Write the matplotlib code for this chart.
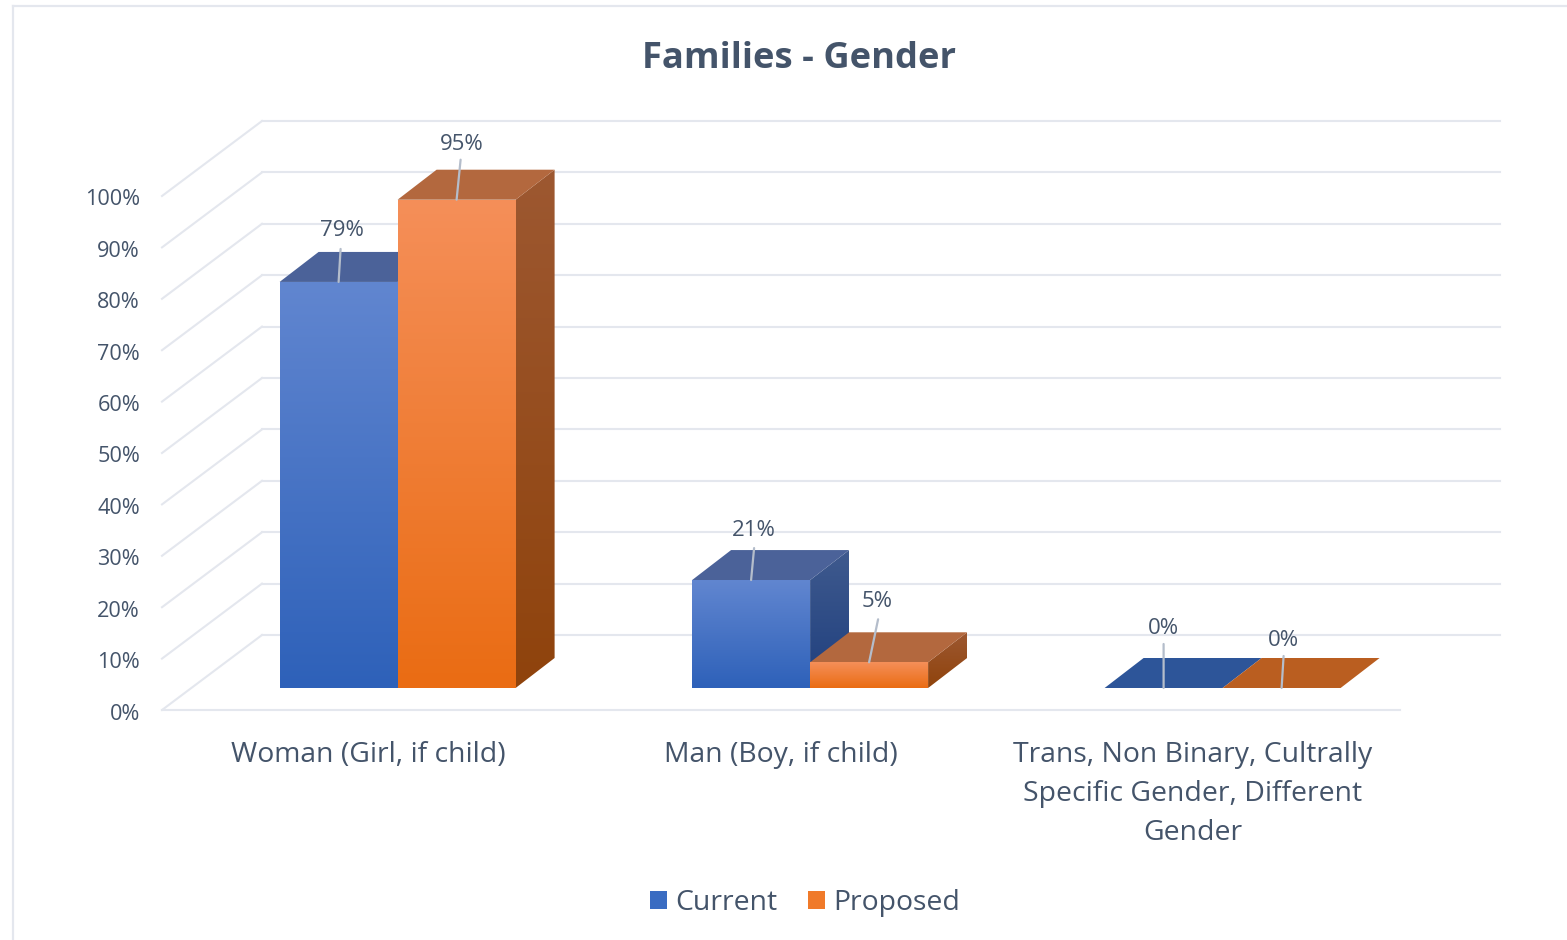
import numpy as np
import matplotlib
matplotlib.use("Agg")
import matplotlib.pyplot as plt
from matplotlib.colors import LinearSegmentedColormap
from matplotlib.patches import Patch, Polygon

plt.rcParams['font.family'] = ['Open Sans', 'DejaVu Sans']

# data
categories = ["Woman (Girl, if child)", "Man (Boy, if child)",
              "Trans, Non Binary, Cultrally\nSpecific Gender, Different\nGender"]
current = [79, 21, 0]
proposed = [95, 5, 0]
series_names = ["Current", "Proposed"]
y_ticks = [0, 10, 20, 30, 40, 50, 60, 70, 80, 90, 100]

# layout, all in reference pixels
W, H = 1567, 940
PX_CAT = 412.5      # one category step
PX_VAL = 5.14       # one percent
X0 = 397.6          # middle of first group
Y0 = 688            # base of the bars
BAR_W = 118 / PX_CAT
DEPTH_X = 39 / PX_CAT
DEPTH_Y = 30 / PX_VAL

# colours per series: front top, front bottom, top face, side top, side bottom, flat top
BLUE = ("#6186D0", "#2E61B9", "#4B6299", "#3F5A8E", "#1F3F7E", "#2D5599")
ORANGE = ("#F58F59", "#EA6C13", "#B3683E", "#9D5831", "#8F430C", "#BA5E20")
GRID = "#E4E7EE"
TEXT = "#44546A"
LEADER = "#B4BDCB"


def xd(px):
    return (px - X0) / PX_CAT


def yd(px):
    return (Y0 - px) / PX_VAL


def gradient(ax, verts, top, bottom, zorder):
    # vertical colour ramp clipped to a polygon
    xs = [v[0] for v in verts]
    ys = [v[1] for v in verts]
    cmap = LinearSegmentedColormap.from_list("face", [top, bottom])
    img = ax.imshow(np.linspace(0, 1, 256).reshape(-1, 1), cmap=cmap, aspect="auto",
                    extent=[min(xs), max(xs), min(ys), max(ys)], zorder=zorder,
                    interpolation="bilinear")
    clip = Polygon(verts, closed=True, transform=ax.transData, fc="none", ec="none")
    ax.add_patch(clip)
    img.set_clip_path(clip)


def bar3d(ax, left, value, colours, zorder):
    right = left + BAR_W
    if value == 0:
        ax.add_patch(Polygon([(left, 0), (right, 0), (right + DEPTH_X, DEPTH_Y), (left + DEPTH_X, DEPTH_Y)],
                             closed=True, fc=colours[5], ec="none", zorder=zorder))
        return
    side = [(right, 0), (right + DEPTH_X, DEPTH_Y), (right + DEPTH_X, value + DEPTH_Y), (right, value)]
    gradient(ax, side, colours[3], colours[4], zorder)
    ax.add_patch(Polygon([(left, value), (right, value), (right + DEPTH_X, value + DEPTH_Y),
                          (left + DEPTH_X, value + DEPTH_Y)],
                         closed=True, fc=colours[2], ec="none", zorder=zorder))
    front = [(left, 0), (right, 0), (right, value), (left, value)]
    gradient(ax, front, colours[0], colours[1], zorder)


fig = plt.figure(figsize=(W / 100, H / 100), dpi=100)
ax = fig.add_axes([0, 0, 1, 1])
ax.axis("off")

# chart frame, only top and left show in the crop
ax.plot([xd(13), xd(W)], [yd(6), yd(6)], color=GRID, lw=1.6)
ax.plot([xd(13), xd(13)], [yd(6), yd(H)], color=GRID, lw=1.6)

# back wall, side wall, floor
front_y0 = yd(710)
back_y0 = yd(635)
label_y0 = yd(714)
for t in y_ticks:
    ax.plot([xd(262), xd(1500)], [back_y0 + t, back_y0 + t], color=GRID, lw=1.5, zorder=1)
    ax.plot([xd(162), xd(262)], [front_y0 + t, back_y0 + t], color=GRID, lw=1.5, zorder=1)
    ax.text(xd(140), label_y0 + t, f"{t}%", ha="right", va="center", fontsize=15.6, color=TEXT)
ax.plot([xd(162), xd(1400)], [front_y0, front_y0], color=GRID, lw=1.5, zorder=1)

# pixel offsets of leader end and label from the bar top
cur_leader = [(2, 33), (3, 32), (0, 44)]
cur_label = [(3, 51), (3, 50), (0, 59)]
pro_leader = [(4, 40), (9, 43), (2, 32)]
pro_label = [(5, 55), (8, 61), (2, 47)]

for i, cat in enumerate(categories):
    bar3d(ax, i - BAR_W, current[i], BLUE, 3 + i)
    bar3d(ax, i, proposed[i], ORANGE, 3 + i)
    series = [(current[i], i - BAR_W / 2, cur_leader[i], cur_label[i]),
              (proposed[i], i + BAR_W / 2, pro_leader[i], pro_label[i])]
    for val, xc, lead, lab in series:
        ax.annotate("", xy=(xc, val), xytext=lead, textcoords="offset pixels",
                    arrowprops=dict(arrowstyle="-", color=LEADER, lw=1.6, shrinkA=0, shrinkB=0), zorder=8)
        ax.annotate(f"{val}%", xy=(xc, val), xytext=lab, textcoords="offset pixels",
                    ha="center", va="center", fontsize=16, color=TEXT, zorder=9)
    ax.text(xd(368) + i, yd(741), cat, ha="center", va="top", fontsize=20.4, color=TEXT,
            linespacing=1.52)

ax.text(xd(799), yd(59), "Families - Gender", ha="center", va="center", fontsize=26.2,
        fontweight="bold", color=TEXT)

handles = [Patch(fc="#3A6CC2", ec="none"), Patch(fc="#F07A2A", ec="none")]
ax.legend(handles, series_names, loc="center", bbox_to_anchor=(805 / W, 1 - 903 / H), ncol=2,
          frameon=False, fontsize=20.4, labelcolor=TEXT, handlelength=0.62, handleheight=0.62,
          handletextpad=0.3, columnspacing=1.05)

ax.set_xlim(xd(0), xd(W))
ax.set_ylim(yd(H), yd(0))

fig.savefig("out.png", dpi=100)
